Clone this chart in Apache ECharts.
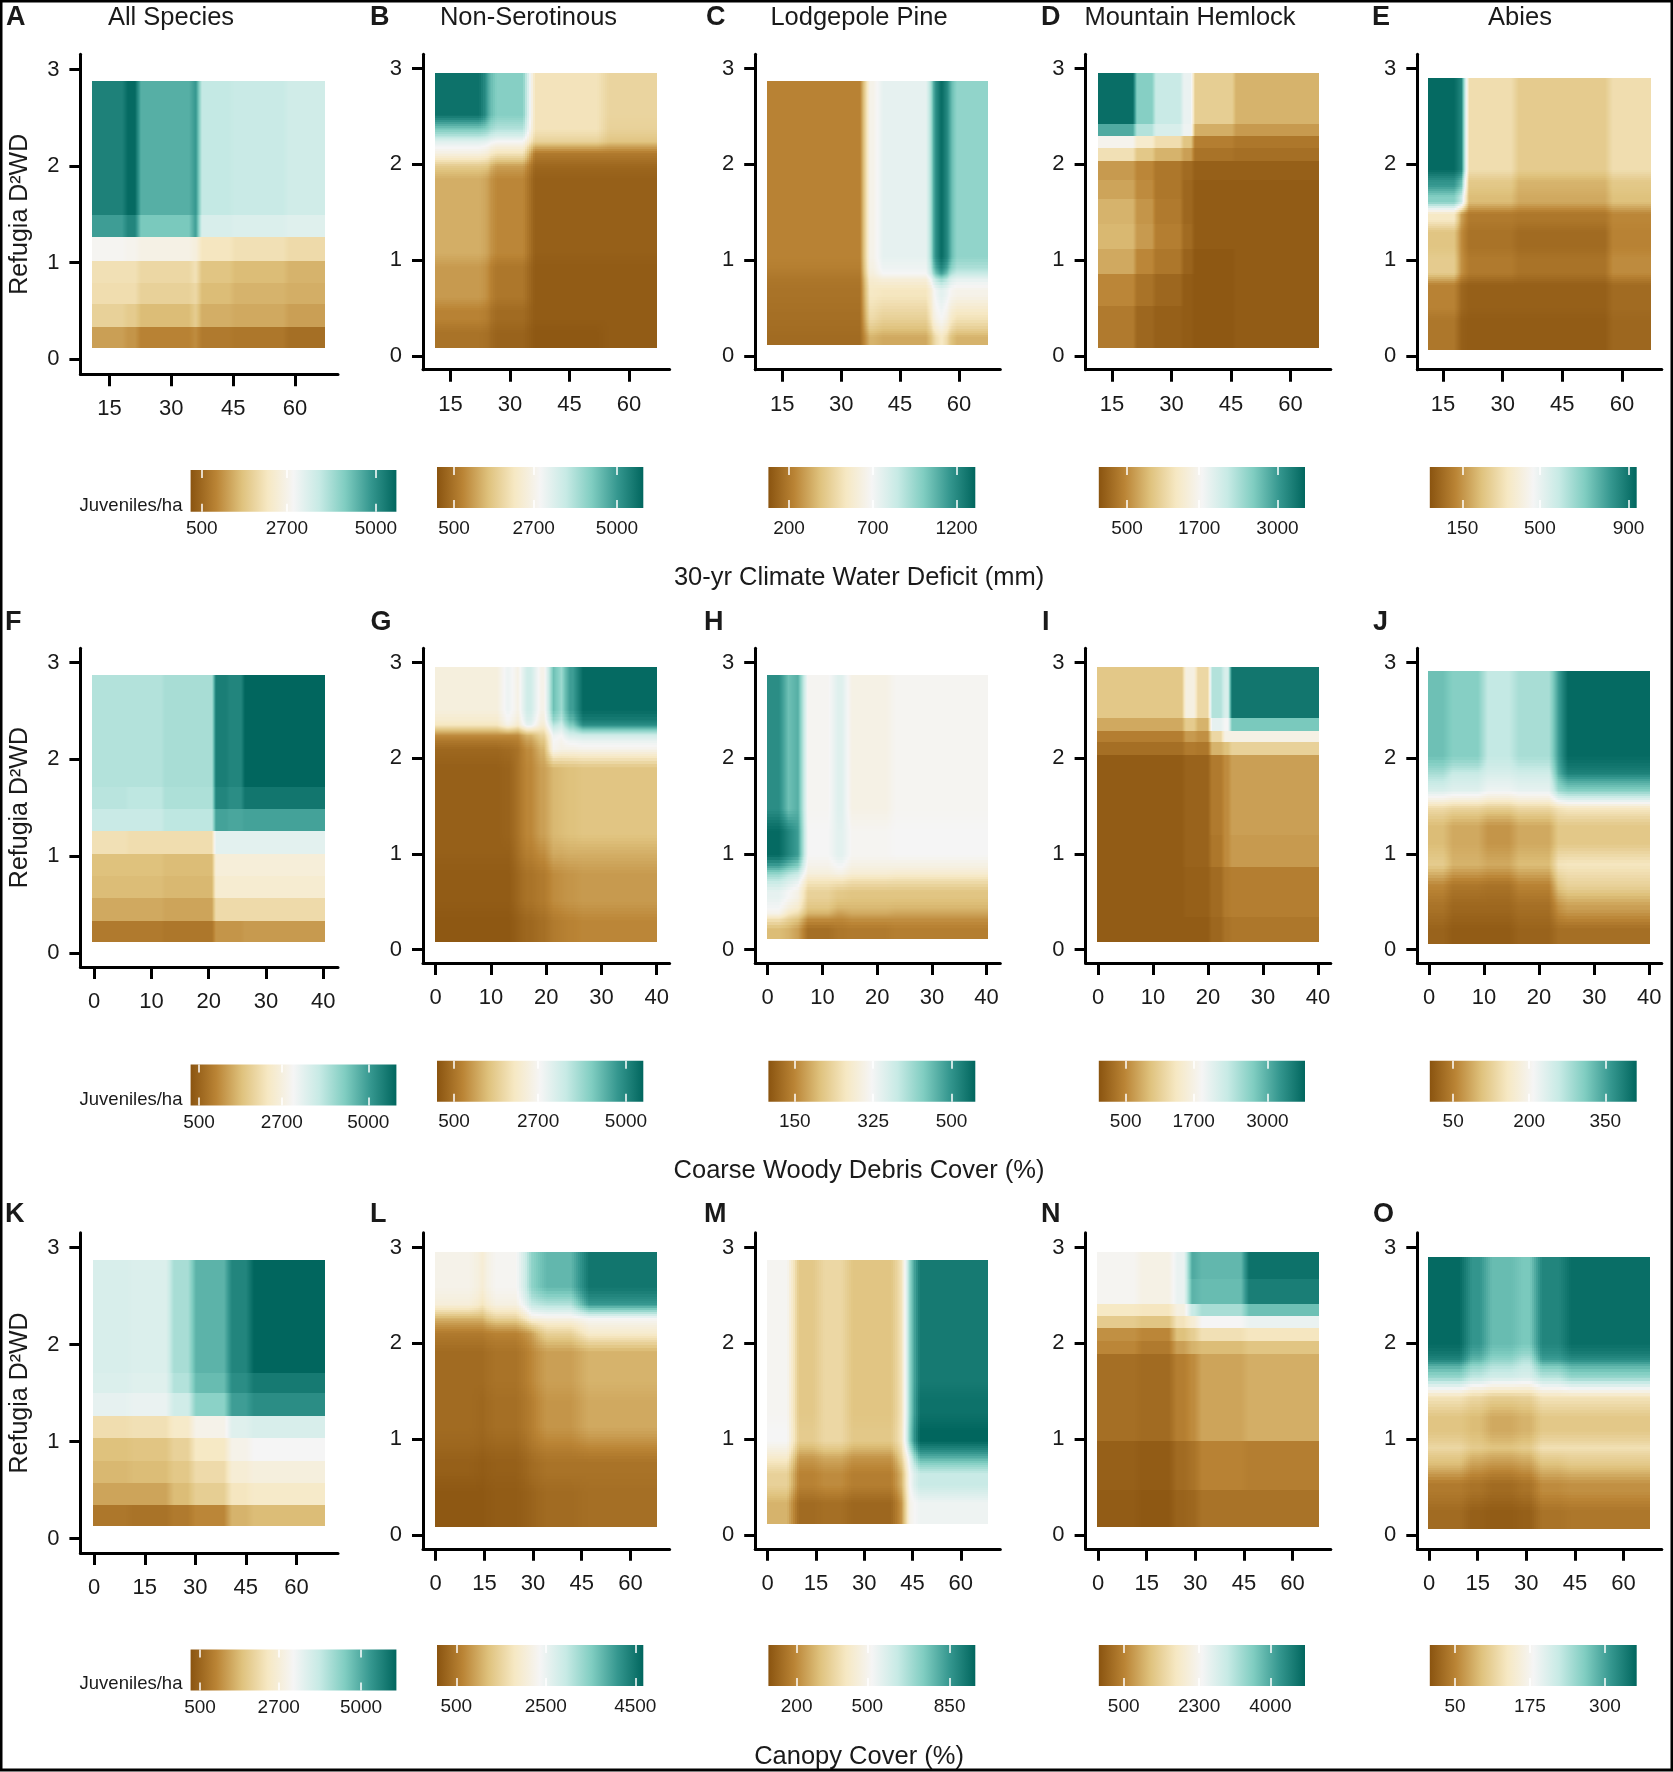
<!DOCTYPE html>
<html><head><meta charset="utf-8">
<style>html,body{margin:0;background:#fff}#c{width:1673px;height:1772px}</style>
<script src="https://cdn.jsdelivr.net/npm/echarts@6/dist/echarts.min.js"></script>
</head><body><div id="c"></div>
<script>
// Each panel: column edges (x units), row edges (Refugia D2WD, top to bottom),
// and the cell readings, given as position along that panel's colour bar (0-100).
const xA=[10.9,18.8,22,35,36.8,44.7,57.7,67.3];
const yA=[2.88,1.49,1.26,1.02,.79,.57,.33,.11];
const cA=[[93,99,82,87,63,62,60],[86,92,76,85,58,57,56],[49,48,46,44,37,35,33],[35,35,32,35,26,24,22],[34,34,30,32,24,22,21],[30,28,24,28,21,20,18],[18,16,12,14,10,9,7]];
const xB=[11.2,23.6,25.2,34.8,53.4,67.1];
const yB=[2.95,2.44,2.3,2.18,2.05,1.92,1,.54,.31,.08];
const cB=[[97,84,74,36,31],[76,72,66,36,30],[56,54,50,30,26],[45,42,36,10,10],[28,26,18,5,5],[21,18,13,3,3],[17,14,9,2,2],[12,10,6,2,2],[8,7,4,1,2]];
const xC=[11.2,36.2,39.4,53,54.1,57,58.2,67.5];
const yC=[2.87,.92,.8,.52,.28,.11];
const cC=[[12,47,54,82,98,85,72],[10,44,50,70,85,70,62],[8,38,37,48,55,50,47],[7,33,30,44,50,42,36],[6,22,20,30,38,28,22]];
const xD=[11.4,20.8,25.6,32.7,35.5,45.8,67.1];
const yD=[2.95,2.42,2.3,2.17,2.03,1.84,1.64,1.38,1.12,.86,.52,.08];
const cD=[[98,74,62,53,29,22],[83,66,58,52,21,17],[48,40,34,26,11,9],[35,27,22,18,8,7],[17,13,9,6,3,3],[19,14,9,5,2,2],[22,16,10,5,2,2],[23,17,11,6,2,2],[20,13,9,4,1,2],[13,8,5,2,1,2],[10,5,3,2,1,2]];
const xE=[11.2,18.8,20.5,33,56.7,67.3];
const yE=[2.9,1.88,1.72,1.54,1.36,1.08,.8,.44,.06];
const cE=[[99,92,34,28,34],[88,78,27,22,27],[74,62,24,20,25],[38,18,10,9,13],[26,14,8,6,12],[28,15,10,8,14],[12,5,3,3,6],[9,3,2,2,5]];
const xF=[-.3,5.8,12,20.9,23.4,26,40.4];
const yF=[2.87,1.71,1.49,1.26,1.02,.79,.57,.33,.11];
const cF=[[66,66,68,94,92,100],[65,64,67,92,90,96],[62,62,64,85,84,85],[35,34,34,55,55,55],[25,25,24,43,43,43],[24,24,23,41,41,41],[20,20,19,33,33,33],[10,10,9,16,16,17]];
const xG=[-.1,12,14.1,15.7,18.1,20.5,22.1,23.4,25.8,40.1];
const yG=[2.95,2.4,2.3,2.18,2,1.1,.9,.4,.08];
const cG=[[44,52,46,60,47,78,70,86,99],[37,46,40,54,42,65,60,75,90],[14,14,14,22,30,52,50,58,60],[5,6,8,14,22,48,46,46,47],[3,4,8,13,18,23,24,25,26],[3,3,7,11,14,20,20,21,21],[2,2,5,8,10,14,15,16,17],[1,1,3,5,7,10,11,12,13]];
const xH=[-.1,3,4.7,6.4,12,14.4,22.5,40.3];
const yH=[2.87,1.36,.88,.72,.44,.32,.11];
const cH=[[90,78,82,49,56,46,49],[99,92,86,50,55,49,50],[72,66,62,44,46,42,41],[54,50,46,30,27,26,26],[47,38,34,22,18,20,19],[24,22,18,7,9,10,11]];
const xI=[-.1,15.6,17.9,20.4,22.7,24,40.1];
const yI=[2.95,2.42,2.29,2.17,2.03,1.2,.86,.34,.08];
const cI=[[27,45,32,66,58,96],[20,28,22,54,50,76],[11,17,15,32,46,46],[7,10,9,22,25,30],[2,4,4,10,14,18],[2,4,4,9,14,17],[2,3,3,6,10,11],[2,2,2,5,8,9]];
const xJ=[-.2,3.5,9.8,15.5,22.7,24.3,40.2];
const yJ=[2.91,1.92,1.76,1.56,1.4,1,.78,.56,.32,.06];
const cJ=[[78,74,63,68,86,99],[68,62,58,60,82,93],[58,56,52,54,70,74],[33,31,29,32,36,38],[24,20,16,20,27,27],[28,22,20,24,36,37],[13,9,8,12,26,30],[8,5,5,7,15,18],[4,2,2,4,7,7]];
const xK=[-.5,10.5,22.4,29,39.6,46.2,68.6];
const yK=[2.875,1.71,1.5,1.265,1.04,.805,.576,.342,.125];
const cK=[[58,57,68,81,92,100],[57,56,66,79,90,95],[54,53,60,73,86,90],[34,35,39,47,56,58],[25,26,30,38,47,50],[23,24,27,33,42,44],[19,19,24,29,37,39],[9,8,10,13,22,24]];
const xL=[-.1,12.9,15.7,27.4,31.5,44.6,68.2];
const yL=[2.95,2.48,2.33,2.19,2.01,1.5,1.02,.85,.55,.08];
const cL=[[47,42,49,72,80,96],[43,37,45,62,66,87],[22,22,30,44,46,50],[10,10,12,18,30,40],[6,6,8,13,18,22],[6,5,7,11,16,20],[5,4,5,9,12,14],[3,2,3,6,8,8],[1,1,2,4,6,7]];
const xM=[-.2,8,15.8,24.5,40.1,43,45.6,68.6];
const yM=[2.87,1.5,1.18,.89,.73,.43,.11];
const cM=[[49,27,32,26,36,72,95],[49,27,32,26,36,72,97],[50,28,32,27,37,74,100],[40,17,20,16,30,56,82],[30,12,14,11,22,50,62],[22,6,7,5,16,47,52]];
const xN=[-.2,12.4,23,27.9,30.8,45.3,68.1];
const yN=[2.95,2.67,2.41,2.29,2.16,2.02,1.89,.98,.47,.08];
const cN=[[49,46,53,83,80,97],[49,46,53,81,79,94],[38,37,45,62,68,78],[28,26,36,42,50,53],[15,13,25,29,35,37],[13,10,18,22,24,26],[7,6,11,14,19,21],[3,2,6,8,12,11],[2,1,4,5,8,8]];
const xO=[-.4,11.4,17.6,27.3,33,41.8,68.3];
const yO=[2.9,1.89,1.76,1.54,1.34,.98,.83,.63,.35,.06];
const cO=[[99,88,79,76,92,98],[92,80,72,66,86,90],[72,64,60,58,66,72],[36,32,29,30,36,36],[26,24,20,22,27,27],[32,28,26,28,35,35],[24,18,16,18,25,27],[10,8,6,8,14,15],[6,3,2,3,8,9]];

const letters=['A','B','C','D','E','F','G','H','I','J','K','L','M','N','O'];
const speciesTitles=['All Species','Non-Serotinous','Lodgepole Pine','Mountain Hemlock','Abies'];
const rowTitles=['30-yr Climate Water Deficit (mm)','Coarse Woody Debris Cover (%)','Canopy Cover (%)'];
const xTicksCWD=[15,30,45,60], xTicksCWDebris=[0,10,20,30,40], xTicksCanopy=[0,15,30,45,60];
const yTicks=[0,1,2,3];
const legendTicks=[[500,2700,5000],[500,2700,5000],[200,700,1200],[500,1700,3000],[150,500,900],
 [500,2700,5000],[500,2700,5000],[150,325,500],[500,1700,3000],[50,200,350],
 [500,2700,5000],[500,2500,4500],[200,500,850],[500,2300,4000],[50,175,300]];
const legendDomain=[[210,5530],[31,5726],[77,1312],[32,3457],[3,937],
 [277,5747],[55,5453],[91,553],[26,3663],[4,412],
 [237,5989],[69,4679],[80,959],[-95,4828],[8,353]];
const palette=['#8A5410','#BA8435','#DFC27D','#F6E8C3','#F5F5F5','#C7EAE5','#80CDC1','#35978F','#01665E'];
const cells=[[xA,yA,cA],[xB,yB,cB],[xC,yC,cC],[xD,yD,cD],[xE,yE,cE],[xF,yF,cF],[xG,yG,cG],[xH,yH,cH],[xI,yI,cI],[xJ,yJ,cJ],[xK,yK,cK],[xL,yL,cL],[xM,yM,cM],[xN,yN,cN],[xO,yO,cO]];
// raster softening half-widths at cell boundaries, in pixels
const softY=[0,7,11,0,6, 0,10,11,0,10, 0,10,9,0,10];
const softX=[3,6,5,2,4, 2,5,5,2,5, 4,9,6,4,6];

// layout (pixels)
const colX=[[80.4,338],[423,669.6],[755.2,1000.3],[1085.6,1330.8],[1417.3,1661.8]];
const L=[
 {top:54.3,ax:374.3,y3:69.7,y0:359,xt:[15,109.4,60,295]},
 {top:54.3,ax:369.7,y3:68.5,y0:356,xt:[15,450.4,60,629]},
 {top:54.3,ax:369.7,y3:68.5,y0:356,xt:[15,782.2,60,959]},
 {top:54.3,ax:369.7,y3:68.5,y0:356,xt:[15,1112,60,1290.6]},
 {top:54.3,ax:369.7,y3:68.5,y0:356,xt:[15,1443,60,1622]},
 {top:648.2,ax:967,y3:662.7,y0:952.8,xt:[0,94.2,40,323.2]},
 {top:648.2,ax:963,y3:662.7,y0:949.7,xt:[0,435.7,40,656.7]},
 {top:648.2,ax:963,y3:662.7,y0:949.7,xt:[0,767.7,40,986.6]},
 {top:648.2,ax:963,y3:662.7,y0:949.7,xt:[0,1098,40,1318]},
 {top:648.2,ax:963,y3:662.7,y0:949.7,xt:[0,1429,40,1649.2]},
 {top:1232.8,ax:1553,y3:1247.6,y0:1538.6,xt:[0,94.2,60,296.4]},
 {top:1232.8,ax:1548.8,y3:1247.6,y0:1534.8,xt:[0,435.7,60,630.4]},
 {top:1232.8,ax:1548.8,y3:1247.6,y0:1534.8,xt:[0,767.7,60,960.8]},
 {top:1232.8,ax:1548.8,y3:1247.6,y0:1534.8,xt:[0,1098,60,1292.5]},
 {top:1232.8,ax:1548.8,y3:1247.6,y0:1534.8,xt:[0,1429,60,1623.5]}];
const legX=[[190.6,396.4],[437,643.3],[768.4,975.3],[1098.8,1305],[1429.8,1636.7]];
const legY=[[470,511.7],[467,508],[1064.5,1105.5],[1060.7,1101.7],[1649.6,1690.4],[1645,1685.9]];
const letterX=[6,370,706,1041,1372, 5,370.5,704,1042,1373, 5,370,704,1041,1373];
const letterY=[18,622.5,1214.7];
const titleCx=[171,528.5,859,1190,1520];
const rowTitleY=[578,1171,1757];

const FONT='"Liberation Sans",Arial,sans-serif', INK='#1a1a1a';
const grid=[],xAxis=[],yAxis=[],series=[],title=[];
const addText=(text,x,y,size,opt={})=>title.push({text,left:x,top:y,padding:0,textAlign:opt.align||'center',textVerticalAlign:'middle',
  textStyle:{fontFamily:FONT,fontSize:size,fontWeight:opt.bold?'bold':'normal',color:INK}});
// pixel break points of one cell side: fine steps inside the softened zones at both ends
function breaks(a,b,h){
  const pts=new Set([a,b]);
  if(h>0){const st=Math.max(1,Math.round(h/4));
    for(let t=a;t<a+h;t+=st)pts.add(Math.round(t));
    pts.add(Math.round(a+h));pts.add(Math.round(b-h));
    for(let t=b;t>b-h;t-=st)pts.add(Math.round(t));}
  return [...pts].filter(p=>p>=a&&p<=b).sort((p,q)=>p-q);
}

letters.forEach((let_,i)=>{
  const row=Math.floor(i/5),col=i%5,l=L[i],[left,right]=colX[col];
  const [v1,p1,v2,p2]=l.xt,k=(v2-v1)/(p2-p1);
  const xmin=v1-(p1-left)*k,xmax=v1+(right-p1)*k;
  const ky=3/(l.y0-l.y3),ymax=3+(l.y3-l.top)*ky,ymin=-(l.ax-l.y0)*ky;
  const ticks=row===0?xTicksCWD:row===1?xTicksCWDebris:xTicksCanopy;
  const [lo,hi]=legendDomain[i];
  const [xe,ye,m]=cells[i];
  const vals=m.map(r=>r.map(p=>lo+p/100*(hi-lo)));
  const data=[];
  vals.forEach((r,ri)=>r.forEach((v,ci)=>data.push([xe[ci],xe[ci+1],ye[ri],ye[ri+1],v,ri,ci])));
  const g=grid.length;
  grid.push({left,top:l.top,width:right-left,height:l.ax-l.top});
  const axisLine={show:true,onZero:false,lineStyle:{color:'#000',width:3}};
  xAxis.push({gridIndex:g,type:'value',min:xmin,max:xmax,position:'bottom',splitLine:{show:false},axisLine,
    axisTick:{show:true,length:12,lineStyle:{color:'#000',width:3},customValues:ticks},
    axisLabel:{fontFamily:FONT,fontSize:22,color:INK,margin:24,customValues:ticks}});
  yAxis.push({gridIndex:g,type:'value',min:ymin,max:ymax,position:'left',splitLine:{show:false},axisLine,
    axisTick:{show:true,length:11,lineStyle:{color:'#000',width:3},customValues:yTicks},
    axisLabel:{fontFamily:FONT,fontSize:22,color:INK,margin:21,customValues:yTicks},
    ...(col===0?{name:'Refugia D²WD',nameLocation:'middle',nameGap:48,nameTextStyle:{fontFamily:FONT,fontSize:25,color:INK}}:{})});
  const sx=softX[i],sy=softY[i],rows=vals.length,cols=vals[0].length;
  const colorOf=v=>echarts.color.lerp(Math.max(0,Math.min(1,(v-lo)/(hi-lo))),palette);
  const side=(c,a,b,h)=>{ // [neighbour direction, weight] for a position c inside [a,b]
    if(h<=0)return [0,0];
    if(c-a<h)return [-1,.5*(1-(c-a)/h)];
    if(b-c<h)return [1,.5*(1-(b-c)/h)];
    return [0,0];
  };
  series.push({type:'custom',xAxisIndex:g,yAxisIndex:g,clip:false,silent:true,data,
    encode:{x:[0,1],y:[2,3]},
    renderItem:(p,api)=>{
      const a=api.coord([api.value(0),api.value(2)]),b=api.coord([api.value(1),api.value(3)]);
      const x0=Math.round(a[0]),x1=Math.round(b[0]),y0=Math.round(a[1]),y1=Math.round(b[1]);
      const ri=api.value(5),ci=api.value(6);
      const hx=Math.min(sx,(x1-x0)/2),hy=Math.min(sy,(y1-y0)/2);
      const bx=breaks(x0,x1,hx),by=breaks(y0,y1,hy),children=[];
      for(let jy=0;jy<by.length-1;jy++){
        const cy=(by[jy]+by[jy+1])/2;let [dy,wy]=side(cy,y0,y1,hy);
        const r2=ri+dy;if(r2<0||r2>=rows)wy=0;
        for(let jx=0;jx<bx.length-1;jx++){
          const cx=(bx[jx]+bx[jx+1])/2;let [dx,wx]=side(cx,x0,x1,hx);
          const c2=ci+dx;if(c2<0||c2>=cols)wx=0;
          const R=wy?r2:ri,C=wx?c2:ci;
          const v=(1-wx)*(1-wy)*vals[ri][ci]+wx*(1-wy)*vals[ri][C]+(1-wx)*wy*vals[R][ci]+wx*wy*vals[R][C];
          children.push({type:'rect',shape:{x:bx[jx],y:by[jy],width:bx[jx+1]-bx[jx],height:by[jy+1]-by[jy]},style:{fill:colorOf(v)}});
        }
      }
      return {type:'group',children};
    }});
  addText(let_,letterX[i],letterY[row],27,{bold:true,align:'left'});
});

// colour bars
letters.forEach((_,i)=>{
  const row=Math.floor(i/5),col=i%5,[a,b]=legX[col],[t,bt]=legY[row*2+(col===0?0:1)];
  const [lo,hi]=legendDomain[i],ticks=legendTicks[i];
  const g=grid.length,xi=xAxis.length;
  grid.push({left:a,top:t,width:b-a,height:bt-t});
  const mk=(position,label)=>({gridIndex:g,type:'value',min:lo,max:hi,position,z:6,splitLine:{show:false},axisLine:{show:false},
    axisTick:{show:true,inside:true,length:8,lineStyle:{color:'#fff',width:1.5},customValues:ticks},
    axisLabel:label?{fontFamily:FONT,fontSize:19,color:INK,margin:col===0?8:11,customValues:ticks,formatter:v=>String(v)}:{show:false}});
  xAxis.push(mk('bottom',true),mk('top',false));
  yAxis.push({gridIndex:g,type:'value',min:0,max:1,show:false});
  series.push({type:'custom',xAxisIndex:xi,yAxisIndex:g,clip:false,silent:true,z:1,data:[[lo,hi,0,1]],encode:{x:[0,1],y:[2,3]},
    renderItem:(p,api)=>{
      const s=api.coord([api.value(0),api.value(3)]),e=api.coord([api.value(1),api.value(2)]);
      return {type:'rect',shape:{x:s[0],y:s[1],width:e[0]-s[0],height:e[1]-s[1]},
        style:{fill:new echarts.graphic.LinearGradient(0,0,1,0,palette.map((c,n)=>({offset:n/(palette.length-1),color:c})))}};
    }});
});

speciesTitles.forEach((t,i)=>addText(t,titleCx[i],18.4,25.5));
rowTitles.forEach((t,i)=>addText(t,859,rowTitleY[i],25.5));
[506,1100,1684].forEach(y=>addText('Juveniles/ha',131,y,18.5));

const chart=echarts.init(document.getElementById('c'),null,{renderer:'canvas'});
chart.setOption({animation:false,backgroundColor:'#fff',tooltip:{show:false},title,grid,xAxis,yAxis,series,
  graphic:[{type:'rect',silent:true,z:100,shape:{x:1,y:1,width:1671,height:1769},style:{fill:'none',stroke:'#000',lineWidth:3}}]});
</script></body></html>
